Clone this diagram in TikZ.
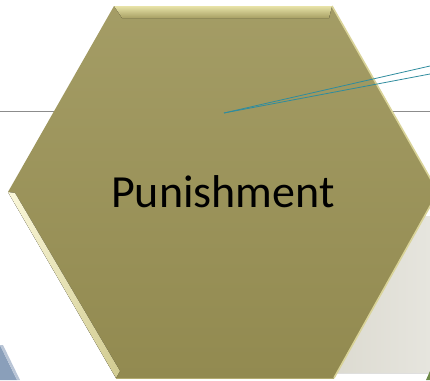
\documentclass[tikz,border=0pt]{standalone}
\usepackage{fontspec}
\newfontfamily\calib{Carlito}
\usetikzlibrary{positioning}

\definecolor{olive}{HTML}{9C9458}
\definecolor{olivedark}{HTML}{928A50}
\definecolor{bevellight}{HTML}{E8E3A8}
\definecolor{bevelwhite}{HTML}{FBF8DA}
\definecolor{paneg}{HTML}{DCDAD0}
\definecolor{paneglight}{HTML}{E6E5DE}
\definecolor{leadteal}{HTML}{2F8C9E}
\definecolor{rulegrey}{HTML}{8C8C8C}
\definecolor{slateblue}{HTML}{8A9FBA}
\definecolor{leafgreen}{HTML}{6E8A48}

\begin{document}
\begin{tikzpicture}[
    x=1pt, y=-1pt,
    rule/.style={draw=rulegrey, line width=0.9pt},
    leader/.style={draw=leadteal, line width=0.8pt},
    hexbody/.style={top color=olive!92!white, bottom color=olivedark},
    title/.style={font=\calib\fontsize{46}{50}\selectfont, text=black, anchor=base}
]
  \useasboundingbox (0,0) rectangle (430,380);

  % pieces of the slides behind
  \fill[left color=paneg, right color=paneglight] (360,216) -- (430,216) -- (430,373) -- (330,373) -- cycle;
  \fill[slateblue] (0,345) -- (17,380) -- (0,380) -- cycle;
  \fill[slateblue!60!white] (0,345) -- (3,345) -- (20,380) -- (17,380) -- cycle;
  \fill[leafgreen] (426,380) -- (430,371) -- (430,380) -- cycle;

  \coordinate (ruleL) at (0,111);
  \coordinate (ruleR) at (430,111);
  \draw[rule] (ruleL) -- (ruleR);

  % hexagon corners
  \coordinate (tl) at (114,6);
  \coordinate (tr) at (332,6);
  \coordinate (rt) at (438,192);
  \coordinate (br) at (334,378);
  \coordinate (bl) at (116,378);
  \coordinate (lf) at (8,192);

  \shade[hexbody] (tl) -- (tr) -- (rt) -- (br) -- (bl) -- (lf) -- cycle;

  % bevels
  \fill[top color=bevellight, bottom color=olive!85!bevellight]
    (tl) -- (tr) -- (329,18) -- (122,18) -- cycle;
  \fill[left color=bevelwhite, right color=bevellight!70!olive]
    (lf) -- (bl) -- (120,371) -- (15,193) -- cycle;
  \draw[bevellight!80!olive, line width=1.6pt] (tr) -- (rt) -- (br);
  \draw[olive!70!bevellight, line width=1pt] (bl) -- (br);

  \node[title] (word) at (223,207) {Punishment};

  \coordinate (tip) at (224,113);
  \coordinate (endA) at (430,66);
  \coordinate (endB) at (430,74);
  \draw[leader] (tip) -- (endA);
  \draw[leader] (tip) -- (endB);
\end{tikzpicture}
\end{document}
